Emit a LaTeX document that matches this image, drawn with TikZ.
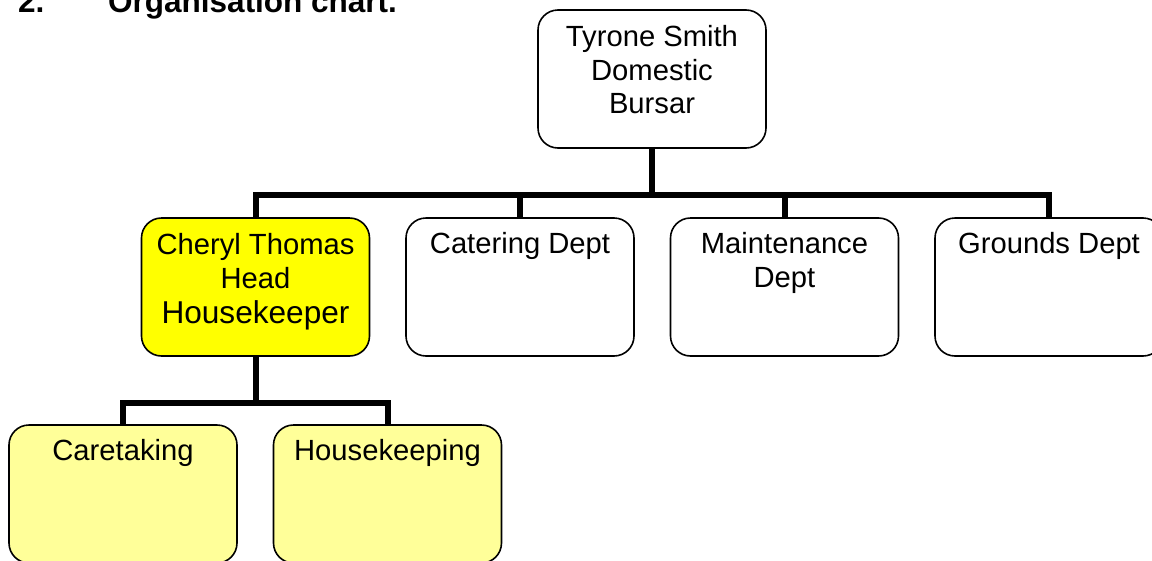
\documentclass[tikz,border=0pt]{standalone}
\usepackage{fontspec}
\setmainfont{Liberation Sans}
\definecolor{hkyellow}{HTML}{FFFF00}
\definecolor{paleyellow}{HTML}{FFFF99}
\newcommand{\toptext}[2][113pt]{\parbox[c][#1][t]{224pt}{\centering\strut #2}}
\begin{document}
\begin{tikzpicture}[x=1pt,y=-1pt,
  box/.style={draw=black, fill=white, line width=1.6pt, rounded corners=20pt,
    minimum width=228pt, minimum height=138pt, inner sep=0pt,
    font=\fontsize{29.2}{33.5}\selectfont},
  conn/.style={draw=black, line width=6pt, line join=miter, line cap=butt},
  title/.style={inner sep=0pt, anchor=base west, font=\fontsize{31.5}{36}\selectfont\bfseries}]
\useasboundingbox (0,0) rectangle (1152,560);
\clip (0,0) rectangle (1152,560);

\node[title] (tnum) at (18,12) {2.};
\node[title] (ttxt) at (108,12) {Organisation chart.};

\node[box] (top) at (652,79) {\toptext[111pt]{Tyrone Smith\\Domestic\\Bursar}};

\node[box, fill=hkyellow] (cher) at (255.5,287)
  {\parbox[c][111pt][t]{224pt}{\centering\strut Cheryl Thomas\\Head\par
   {\fontsize{31.6}{35}\selectfont Housekeeper\par}}};
\node[box] (cat) at (520,287) {\toptext{Catering Dept}};
\node[box] (mnt) at (784.5,287) {\toptext{Maintenance\\Dept}};
\node[box] (grd) at (1049,287) {\toptext{Grounds Dept}};

\node[box, fill=paleyellow] (care) at (123,494) {\toptext{Caretaking}};
\node[box, fill=paleyellow] (hk) at (387.5,494) {\toptext{Housekeeping}};

\coordinate (bar) at (0,195);
\coordinate (bar2) at (0,403);

\draw[conn] (top.south) -- (top.south |- bar);
\draw[conn] (cher.north) -- (cher.north |- bar) -- (grd.north |- bar) -- (grd.north);
\draw[conn] (cat.north) -- (cat.north |- bar);
\draw[conn] (mnt.north) -- (mnt.north |- bar);

\draw[conn] (cher.south) -- (cher.south |- bar2);
\draw[conn] (care.north) -- (care.north |- bar2) -- (hk.north |- bar2) -- (hk.north);
\end{tikzpicture}
\end{document}
